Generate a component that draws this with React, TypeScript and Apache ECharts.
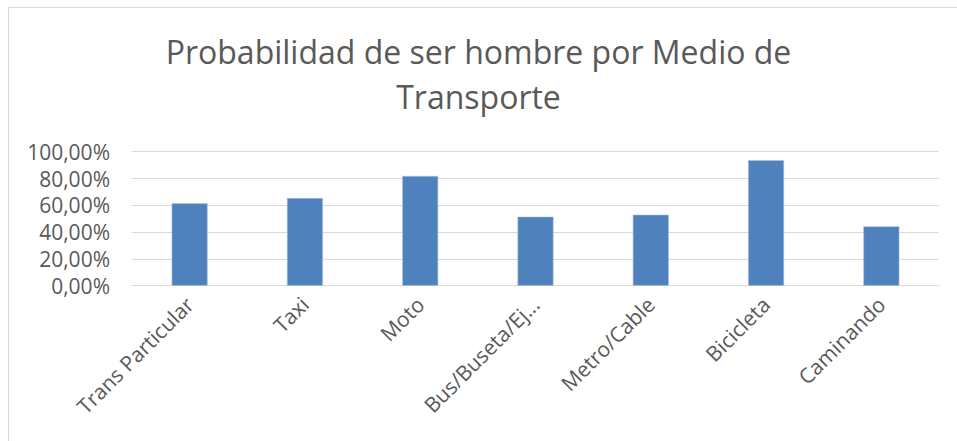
import React, { useEffect, useRef } from "react";
import * as echarts from "echarts";

const titleText = "Probabilidad de ser hombre por Medio de\nTransporte";
const categories = ["Trans Particular", "Taxi", "Moto", "Bus/Buseta/Ej...", "Metro/Cable", "Bicicleta", "Caminando"];
const values = [0.615, 0.654, 0.819, 0.515, 0.530, 0.936, 0.443];
const yTicks = [0, 0.2, 0.4, 0.6, 0.8, 1.0];

const fmt = (v: number) => (v * 100).toFixed(2).replace(".", ",") + "%";

export default function App() {
  const ref = useRef<HTMLDivElement>(null);
  useEffect(() => {
    if (!ref.current) return;
    const chart = echarts.init(ref.current, null, { renderer: "svg" });
    chart.setOption({
      animation: false,
      backgroundColor: "#ffffff",
      textStyle: { fontFamily: "Open Sans" },
      graphic: [
        {
          type: "rect",
          shape: { x: 8.5, y: 7.5, width: 1000, height: 500 },
          style: { fill: "none", stroke: "#D9D9D9", lineWidth: 1 },
          silent: true,
        },
      ],
      title: {
        text: titleText,
        left: "center",
        top: 29,
        padding: 0,
        textStyle: {
          fontFamily: "Open Sans",
          fontSize: 32,
          fontWeight: "normal",
          color: "#595959",
          lineHeight: 45,
        },
      },
      grid: { left: 132, right: 18, top: 151.7, bottom: 155.3, containLabel: false },
      xAxis: {
        type: "category",
        data: categories,
        axisLine: { lineStyle: { color: "#D9D9D9", width: 1 } },
        axisTick: { show: false },
        axisLabel: {
          rotate: 45,
          interval: 0,
          color: "#595959",
          fontSize: 21,
          margin: 15,
        },
      },
      yAxis: {
        type: "value",
        min: yTicks[0],
        max: yTicks[yTicks.length - 1],
        interval: 0.2,
        axisLine: { show: false },
        axisTick: { show: false },
        splitLine: { lineStyle: { color: "#D9D9D9", width: 1 } },
        axisLabel: {
          formatter: (v: number) => fmt(v),
          color: "#595959",
          fontSize: 21,
          margin: 22,
        },
      },
      series: [
        {
          type: "bar",
          data: values,
          barWidth: 36,
          itemStyle: { color: "#4F81BD", borderColor: "#A9C4E4", borderWidth: 0.6 },
        },
      ],
    });
    return () => chart.dispose();
  }, []);
  return (
    <div
      ref={ref}
      style={{ position: "fixed", left: 0, top: 0, width: 957, height: 441 }}
    />
  );
}
